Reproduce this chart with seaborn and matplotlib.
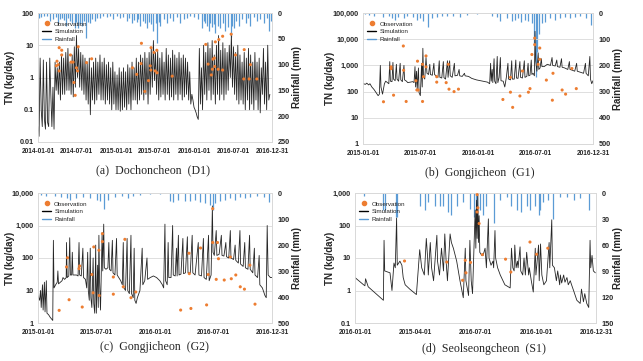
import numpy as np
import pandas as pd
import matplotlib
matplotlib.use("Agg")
import matplotlib.pyplot as plt
from matplotlib.lines import Line2D
import matplotlib.ticker as mticker
import seaborn as sns

sns.set_style("white")
plt.rcParams['font.family'] = ['Liberation Sans', 'DejaVu Sans']

OBS_C = "#ED7D31"
SIM_C = "#262626"
RAIN_C = "#5B9BD5"
GRID_C = "#D9D9D9"

# ---------------- (a) Dochoncheon (D1), 2014-2016 ----------------
# simulated TN load, one value every 5 days from 2014-01-01
d1_sim_val = [
    0.03, 0.015, 4, 0.1, 0.03, 3.5,   0.05, 0.025, 3, 0.04, 0.03, 4,
    0.3, 0.03, 0.5, 0.025, 3, 0.4,    2, 0.3, 3, 0.2, 5, 0.3,
    4, 0.3, 6, 0.4, 8, 0.4,           3, 0.3, 5, 0.25, 9, 0.5,
    20, 1, 8, 0.5, 6, 0.4,            5, 0.3, 4, 0.2, 3, 0.15,
    4, 0.07, 2, 0.2, 3, 0.15,         4, 0.2, 3, 0.3, 5, 0.2,
    3, 0.2, 4, 0.15, 2.5, 0.2,        3, 0.15, 2, 0.1, 3, 0.15,
    1.5, 0.1, 1.2, 0.1, 2, 0.09,      1.5, 0.1, 2, 0.12, 1.5, 0.1,
    2.5, 0.15, 2, 0.1, 3, 0.2,        2, 0.2, 4, 0.15, 3, 0.2,
    5, 0.3, 4, 0.2, 6, 0.3,           4, 0.15, 6, 0.3, 8, 0.5,
    14, 0.8, 6, 0.3, 7, 0.2,          4, 0.25, 6, 0.3, 3, 0.2,
    8, 0.3, 5, 0.2, 4, 0.25,          7, 0.2, 5, 0.3, 4, 0.2,
    6, 0.3, 4, 0.2, 5, 0.25,          4, 0.3, 3, 0.2, 1.5, 0.15,
    0.3, 0.2, 0.12, 0.1, 0.08, 0.06,  0.05, 8, 0.15, 2, 0.1, 10,
    0.3, 6, 0.2, 12, 0.4, 8,          0.2, 14, 0.3, 5, 0.15, 10,
    0.3, 20, 0.2, 7, 0.3, 12,         0.2, 8, 0.3, 6, 0.4, 10,
    1, 22, 0.5, 9, 0.3, 6,            0.2, 10, 0.15, 5, 0.2, 3,
    0.15, 6, 0.1, 4, 0.2, 8,          0.1, 5, 0.15, 3, 0.1, 6,
    0.2, 3, 0.1, 4, 0.08, 2,          0.3, 8, 0.15, 3, 0.1, 10, 0.2, 0.3,
]
d1_sim_day = list(range(0, 5 * len(d1_sim_val), 5))
d1_obs_day = [86, 89, 94, 99, 99, 111, 111, 152, 155, 164, 168, 174, 180, 185, 188, 227, 251,
              442, 462, 484, 482, 500, 517, 525, 528, 529, 543, 548, 556, 557, 628,
              785, 796, 811, 816, 819, 825, 827, 830, 846, 843, 864, 864, 904, 924, 965, 963,
              988, 994, 1024]
d1_obs_val = [2.3, 3.2, 2.5, 8.4, 1.6, 7, 5, 5, 3, 3, 0.7, 0.28, 2, 1.6, 9, 2.9, 3.8,
              2, 1.25, 11.5, 2.7, 0.37, 0.8, 2.3, 1.7, 8.4, 6, 1.6, 7, 1.4, 1.1,
              10.6, 2.6, 1.2, 1.8, 3.7, 4, 2.2, 12.7, 15, 1.8, 19, 1.7, 22, 5, 7.3, 0.9,
              0.9, 2.5, 0.9]
d1_rain_day = [5, 16, 30, 42, 55, 70, 82, 94, 103, 110, 122, 133, 141, 149, 160, 172, 180, 188,
               196, 204, 214, 224, 232, 243, 255, 266, 278, 290, 305, 321, 336, 352,
               368, 384, 400, 415, 427, 438, 450, 462, 470, 478, 490, 500, 509, 520, 530, 540,
               550, 559, 566, 572, 588, 603, 618, 634, 650, 666, 681, 697, 712, 728, 750, 767,
               775, 783, 791, 799, 806, 814, 822, 830, 841, 853, 865, 877, 890, 904, 910, 916,
               928, 940, 955, 971, 983, 994, 1010, 1026, 1041, 1057, 1070, 1081, 1090]
d1_rain_mm = [10, 8, 5, 6, 15, 12, 8, 20, 12, 10, 14, 25, 10, 15, 20, 30, 18, 30,
              22, 25, 15, 48, 18, 20, 12, 15, 10, 10, 6, 8, 5, 12,
              6, 10, 8, 15, 10, 20, 14, 18, 12, 25, 15, 20, 30, 18, 22, 35,
              20, 58, 18, 25, 12, 20, 10, 15, 8, 20, 12, 10, 6, 8, 12, 30,
              15, 20, 25, 35, 20, 28, 22, 38, 25, 30, 20, 35, 28, 46, 25, 30,
              15, 25, 12, 20, 10, 25, 8, 15, 12, 20, 10, 35, 15]

# ---------------- (b) Gongjicheon (G1), 2015-2016 ----------------
g1_sim_day = [0, 8, 12, 18, 22, 28, 35, 42, 48, 52, 55, 57, 62, 68, 72, 78, 82, 85, 87, 92,
              95, 97, 102, 106, 108, 113, 118, 120, 125, 130, 132, 138, 142, 150, 158, 162,
              165, 167, 170, 172, 176, 178, 182, 186, 188, 190, 192, 196, 200, 203, 208, 212,
              214, 220, 225, 227, 232, 238, 242, 244, 250, 255, 257, 262, 268, 270, 275, 277,
              283, 290, 292, 300, 305, 307, 315, 322, 324, 335, 345, 360, 380, 395, 402, 405,
              407, 410, 412, 416, 418, 422, 426, 428, 432, 436, 438, 445, 450, 455, 460, 462,
              468, 472, 474, 480, 485, 487, 492, 498, 500, 506, 512, 514, 520, 524, 526, 530,
              534, 536, 540, 544, 546, 548, 552, 556, 558, 562, 566, 568, 575, 580, 585, 590,
              595, 600, 602, 610, 615, 617, 625, 630, 632, 640, 650, 655, 657, 665, 672, 678,
              680, 690, 700, 706, 708, 715, 720, 722, 726, 730]
g1_sim_val = [200, 190, 210, 180, 200, 150, 120, 90, 70, 80, 1000, 150, 80, 200, 250, 220, 200, 1400, 250, 240,
              1300, 300, 260, 1100, 300, 250, 1200, 280, 240, 1000, 280, 250, 220, 230, 240, 220,
              900, 150, 600, 120, 800, 90, 70, 1200, 150, 4500, 400, 300, 2000, 500, 450, 1100,
              450, 420, 1200, 450, 400, 350, 1500, 350, 330, 1400, 340, 300, 1500, 350, 1500, 400,
              350, 1200, 400, 420, 700, 400, 380, 500, 400, 380, 320, 280, 250, 230, 200, 1200,
              250, 700, 220, 1800, 250, 200, 2200, 220, 350, 2000, 260, 250, 150, 350, 1200, 300,
              280, 1500, 300, 300, 1600, 330, 320, 1400, 350, 330, 1500, 350, 380, 1200, 400, 420,
              1600, 450, 500, 400, 20000, 1500, 600, 3000, 700, 800, 1800, 900, 900, 1000, 1100, 1050,
              1000, 2000, 1000, 950, 1600, 900, 850, 1800, 850, 800, 700, 1400, 700, 650, 600, 1200,
              600, 550, 500, 1200, 500, 400, 2200, 300, 200, 260]
g1_obs_day = [65, 89, 89, 97, 128, 129, 137, 168, 171, 173, 175, 189, 189, 192, 200, 200, 234, 234,
              264, 271, 273, 289, 303, 444, 468, 468, 475, 498, 506, 525, 530, 536, 545, 545,
              556, 561, 561, 582, 601, 603, 632, 643, 663, 677]
g1_obs_val = [41, 880, 750, 73, 5500, 650, 42, 260, 115, 1450, 115, 1100, 42, 370, 2300, 880, 370, 230,
              220, 1100, 124, 100, 124, 50, 95, 350, 25, 68, 610, 95, 130, 2600, 11000, 6200,
              1100, 4600, 1700, 275, 47, 500, 115, 80, 760, 130]
g1_rain_day = [7, 18, 34, 65, 81, 92, 102, 110, 129, 141, 160, 171, 181, 192, 205, 218, 234, 250,
               266, 287, 308, 329, 361, 408, 424, 435, 456, 472, 482, 493, 503, 514, 524, 535,
               543, 548, 552, 558, 567, 577, 593, 609, 625, 640, 656, 672, 688, 709, 725]
g1_rain_mm = [5, 8, 10, 15, 10, 20, 25, 15, 20, 10, 15, 25, 20, 30, 55, 20, 15, 10,
              10, 12, 15, 8, 5, 10, 15, 30, 20, 30, 25, 20, 35, 25, 30, 40,
              120, 244, 150, 80, 40, 35, 20, 25, 20, 15, 20, 15, 12, 20, 45]

# ---------------- (c) Gongjicheon (G2), 2015-2016 ----------------
g2_sim_day = [0, 5, 8, 10, 14, 16, 20, 22, 26, 28, 33, 38, 43, 46, 48, 50, 55, 60, 62, 64,
              70, 75, 78, 83, 88, 89, 91, 96, 99, 101, 105, 107, 109, 115, 120, 125, 128, 130, 135, 140,
              142, 148, 152, 155, 157, 160, 163, 165, 168, 172, 174, 177, 180, 182, 186, 188, 190, 192, 195, 200,
              202, 205, 207, 212, 218, 221, 223, 228, 232, 234, 240, 245, 247, 252, 258, 263, 266, 268, 273, 278,
              280, 285, 290, 292, 297, 300, 302, 306, 310, 318, 325, 327, 333, 340, 342, 350, 360, 370, 380, 388,
              392, 396, 398, 403, 406, 408, 415, 420, 422, 428, 432, 434, 438, 440, 446, 452, 454, 460, 466, 468,
              475, 481, 483, 490, 500, 502, 510, 516, 518, 525, 532, 534, 540, 544, 546, 550, 556, 558, 565, 572,
              574, 580, 586, 588, 595, 600, 602, 610, 615, 617, 625, 630, 632, 640, 645, 647, 655, 660, 662, 670,
              675, 677, 685, 690, 692, 700, 708, 712, 715, 718, 725, 730]
g2_sim_val = [7, 5, 10, 3, 15, 2.5, 18, 2.2, 20, 2, 1.8, 1.5, 1.3, 1.2, 350, 12, 15, 18, 40, 16,
              18, 20, 25, 22, 25, 300, 25, 28, 420, 30, 30, 150, 30, 30, 30, 28, 300, 30, 28, 200,
              25, 22, 12, 150, 10, 5, 200, 6, 3, 100, 4, 2, 250, 2, 60, 3, 500, 20, 2.5, 600,
              40, 1100, 50, 45, 50, 300, 45, 40, 350, 35, 30, 400, 30, 25, 20, 15, 300, 12, 10, 400,
              10, 8, 500, 8, 6, 200, 5, 4, 6, 10, 200, 15, 20, 100, 22, 25, 28, 25, 20, 15,
              12, 1100, 20, 15, 300, 25, 25, 1000, 30, 28, 200, 28, 500, 30, 32, 400, 33, 35, 450, 35,
              35, 500, 35, 30, 300, 30, 28, 400, 25, 22, 500, 20, 30, 4000, 150, 120, 700, 120, 130, 500,
              120, 115, 300, 110, 100, 700, 100, 90, 250, 85, 70, 700, 65, 55, 300, 50, 45, 500, 45, 35,
              200, 30, 25, 120, 15, 12, 7, 6, 1000, 30, 25, 25]
g2_obs_day = [66, 89, 92, 97, 128, 130, 138, 168, 172, 174, 190, 191, 201, 201, 235, 235, 266, 271, 290, 305,
              445, 471, 472, 477, 507, 526, 531, 545, 545, 556, 560, 563, 581, 600, 603, 617, 631, 644, 661, 677]
g2_obs_val = [2.45, 53, 102, 5.2, 47, 57, 3.1, 31, 8.5, 219, 173, 7, 320, 560, 26, 7.7, 13, 375, 6, 9,
              2.5, 140, 33, 2.8, 203, 3.6, 31, 3300, 300, 22, 300, 95, 21, 107, 23, 30, 13, 11, 60, 3.8]
g2_rain_day = [10, 26, 52, 73, 89, 99, 120, 141, 162, 183, 193, 205, 219, 240, 261, 282, 297, 318, 349, 381,
               412, 422, 438, 459, 475, 490, 506, 521, 537, 545, 553, 568, 584, 600, 615, 631, 647, 662,
               683, 704, 720]
g2_rain_mm = [8, 10, 12, 15, 20, 25, 20, 15, 20, 25, 30, 60, 25, 15, 10, 20, 10, 8, 5, 5,
              30, 35, 25, 30, 30, 25, 35, 40, 45, 65, 40, 30, 25, 20, 25, 15, 20, 15,
              10, 15, 35]

# ---------------- (d) Seolseongcheon (S1), 2016 ----------------
s1_sim_day = [0, 13, 15, 16, 20, 43, 44, 45, 53, 56, 59, 61, 63, 64, 68, 71, 73, 76, 83, 93,
              98, 101, 105, 108, 110, 111, 114, 116, 119, 124, 125, 128, 131, 134, 136, 138, 140, 144, 146, 149,
              154, 159, 164, 167, 168, 172, 174, 176, 178, 182, 183, 184, 185, 186, 187, 188, 189, 192, 194, 197,
              198, 199, 202, 203, 206, 209, 210, 212, 213, 216, 220, 227, 235, 237, 239, 241, 242, 244, 246, 247,
              250, 251, 254, 256, 258, 260, 263, 264, 267, 270, 273, 274, 278, 279, 281, 283, 286, 290, 294, 295,
              298, 299, 302, 305, 307, 310, 311, 313, 316, 318, 321, 323, 326, 328, 331, 336, 341, 343, 346, 348,
              351, 354, 356, 357, 359, 361, 364]
s1_sim_val = [2.5, 1.5, 1.4, 2.3, 1.3, 0.5, 35, 4, 3.5, 1, 7, 5, 170, 6, 8, 6, 2.5, 1.5, 1.1, 0.75,
              18, 5, 3, 40, 10, 3, 30, 5, 2, 50, 8, 3, 20, 4, 55, 8, 2, 55, 30, 20,
              8, 2, 0.6, 20, 2, 0.7, 35, 2, 0.8, 300, 20, 600, 40, 900, 30, 200, 15, 12, 12, 20,
              10, 5, 160, 10, 6, 8, 5, 70, 10, 5, 3, 1.5, 1.2, 20, 5, 4, 25, 5, 8, 5,
              22, 4, 3, 10, 3, 15, 3, 5, 2, 0.9, 20, 3, 25, 2, 27, 3, 1.5, 2, 30, 5,
              150, 6, 5, 2, 4, 1.5, 3, 1.7, 3, 1.8, 2.5, 1.5, 2, 1.5, 1, 0.5, 0.4, 1.1, 0.45, 0.8,
              0.4, 0.3, 35, 5, 12, 4, 3.5]
s1_obs_day = [75, 139, 163, 167, 168, 175, 185, 186, 185, 188, 193, 228, 236, 265, 275, 292]
s1_obs_val = [8.1, 7.5, 2.06, 8.5, 3.5, 7.3, 890, 350, 260, 115, 12.7, 9.2, 3.7, 31, 13, 20]
s1_rain_day = [13, 43, 45, 62, 64, 98, 106, 111, 121, 129, 134, 141, 146, 154, 164, 174, 180, 183, 185, 189,
               194, 199, 210, 220, 230, 237, 245, 252, 260, 265, 273, 278, 280, 285, 293, 300, 310, 321,
               331, 341, 355]
s1_rain_mm = [3, 20, 20, 28, 28, 15, 20, 10, 15, 15, 15, 22, 25, 15, 10, 18, 28, 25, 25, 20,
              25, 15, 35, 8, 5, 15, 20, 22, 15, 20, 15, 25, 20, 10, 8, 30, 5, 5,
              8, 6, 20]

W, H = 643, 361
fig = plt.figure(figsize=(W / 100, H / 100), dpi=100)


def px_rect(x0, y0, x1, y1):
    return [x0 / W, 1 - y1 / H, (x1 - x0) / W, (y1 - y0) / H]


def to_dates(start, days):
    return pd.Timestamp(start) + pd.to_timedelta(np.asarray(days, dtype=float), unit="D")


def draw_panel(box, start, sim_day, sim_val, obs_day, obs_val, rain_day, rain_mm,
               yticks, ylabels, rain_ticks, xlabels, xdates, caption, cap_xy, lab_x):
    ax = fig.add_axes(px_rect(*box))
    sns.lineplot(x=to_dates(start, sim_day), y=sim_val, ax=ax, color=SIM_C, lw=0.6,
                 estimator=None, legend=False)
    sns.scatterplot(x=to_dates(start, obs_day), y=obs_val, ax=ax, color=OBS_C, s=5,
                    edgecolor="none", legend=False, zorder=4)
    ax.set_yscale("log")
    ax.set_ylim(yticks[0], yticks[-1])
    ax.yaxis.set_major_locator(mticker.FixedLocator(yticks))
    ax.yaxis.set_minor_locator(mticker.NullLocator())
    ax.set_yticklabels(ylabels, fontsize=5.2, fontweight="bold")
    ax.set_xlim(pd.Timestamp(start), pd.Timestamp("2016-12-31"))
    ax.set_xticks(pd.to_datetime(xdates))
    ax.set_xticklabels(xlabels, fontsize=4.7, fontweight="bold")
    ax.tick_params(length=0, pad=3)
    ax.tick_params(axis="x", pad=4)
    ax.yaxis.grid(True, color=GRID_C, lw=0.6)
    ax.set_xlabel("")
    ax.set_ylabel("")

    ax2 = ax.twinx()
    ax.set_zorder(ax2.get_zorder() + 1)
    ax.patch.set_visible(False)
    ax2.vlines(to_dates(start, rain_day), 0, rain_mm, color=RAIN_C, lw=0.9)
    ax2.set_ylim(rain_ticks[-1], 0)
    ax2.set_yticks(rain_ticks)
    ax2.set_yticklabels([str(t) for t in rain_ticks], fontsize=5.2, fontweight="bold")
    ax2.tick_params(length=0, pad=4)
    for a in (ax, ax2):
        for s in a.spines.values():
            s.set_color(GRID_C)
            s.set_linewidth(0.6)

    handles = [Line2D([], [], marker="o", ls="none", color=OBS_C, markersize=3),
               Line2D([], [], color="black", lw=1),
               Line2D([], [], color=RAIN_C, lw=1)]
    ax.legend(handles, ["Observation", "Simulation", "Rainfall"], loc="upper left",
              bbox_to_anchor=(0.0, 0.97), frameon=False, fontsize=4.5, handlelength=1.4,
              handletextpad=0.5, labelspacing=0.35, borderaxespad=0.3)

    ymid = 1 - (box[1] + box[3]) / 2 / H
    fig.text(lab_x[0] / W, ymid, "TN (kg/day)", rotation=90, ha="center", va="center",
             fontsize=7, fontweight="bold")
    fig.text(lab_x[1] / W, ymid, "Rainfall (mm)", rotation=90, ha="center", va="center",
             fontsize=7, fontweight="bold")
    fig.text(cap_xy[0] / W, 1 - cap_xy[1] / H, caption, ha="center", va="center",
             fontsize=8.6, family="Liberation Serif")


x3 = ["2014-01-01", "2014-07-01", "2015-01-01", "2015-07-01", "2016-01-01", "2016-07-01", "2016-12-31"]
x2 = ["2015-01-01", "2015-07-01", "2016-01-01", "2016-07-01", "2016-12-31"]
x1_dates = ["2016-01-01", "2016-04-01", "2016-07-01", "2016-10-01", "2016-12-31"]
x1_labels = ["2016-01-01", "2015-04-01", "2016-07-01", "2016-10-01", "2016-12-31"]

draw_panel((38, 13, 272, 142), "2014-01-01", d1_sim_day, d1_sim_val, d1_obs_day, d1_obs_val,
           d1_rain_day, d1_rain_mm, [0.01, 0.1, 1, 10, 100], ["0.01", "0.1", "1", "10", "100"],
           [0, 50, 100, 150, 200, 250], x3, x3, "(a)  Dochoncheon  (D1)", (153, 170), (10, 297))
draw_panel((363, 13, 593, 144), "2015-01-01", g1_sim_day, g1_sim_val, g1_obs_day, g1_obs_val,
           g1_rain_day, g1_rain_mm, [1, 10, 100, 1000, 10000, 100000],
           ["1", "10", "100", "1,000", "10,000", "100,000"],
           [0, 100, 200, 300, 400, 500], x2, x2, "(b)  Gongjicheon  (G1)", (480, 173), (330, 618))
draw_panel((38, 193, 272, 323), "2015-01-01", g2_sim_day, g2_sim_val, g2_obs_day, g2_obs_val,
           g2_rain_day, g2_rain_mm, [1, 10, 100, 1000, 10000], ["1", "10", "100", "1,000", "10,000"],
           [0, 100, 200, 300, 400, 500], x2, x2, "(c)  Gongjicheon  (G2)", (155, 347), (10, 297))
draw_panel((355, 193, 596, 323), "2016-01-01", s1_sim_day, s1_sim_val, s1_obs_day, s1_obs_val,
           s1_rain_day, s1_rain_mm, [0.1, 1, 10, 100, 1000], ["0.1", "1", "10", "100", "1,000"],
           [0, 30, 60, 90, 120, 150], x1_labels, x1_dates, "(d)  Seolseongcheon  (S1)", (484, 349),
           (330, 618))

fig.savefig("out.png", dpi=100, facecolor="white")
